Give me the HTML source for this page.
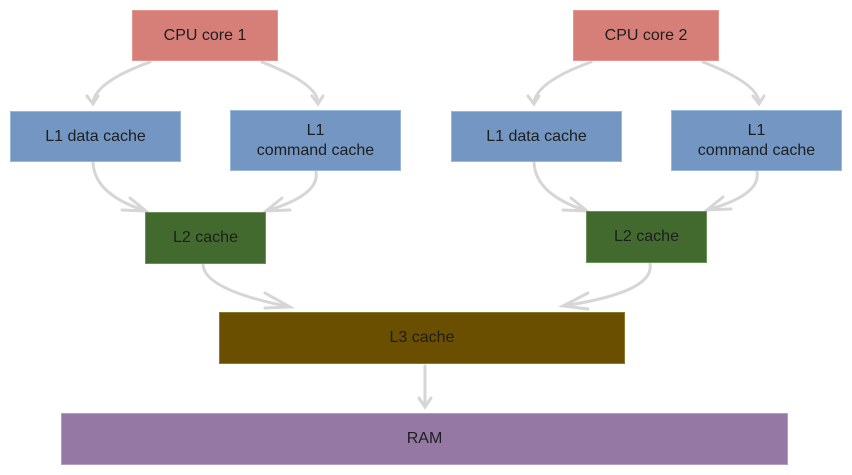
<!DOCTYPE html>
<html><head><style>
body{margin:0;width:852px;height:475px;background:#fff;position:relative;overflow:hidden;font-family:"Comic Sans MS","Liberation Sans",sans-serif;}
.b{position:absolute;display:flex;align-items:center;justify-content:center;text-align:center;font-size:16px;color:#1e1e1e;box-sizing:border-box;line-height:20px;}
.r{background:#d67f79;border:1.5px solid #e5948e}
.u{background:#7396c2;border:1.5px solid #9ab6da}
.g{background:#436a2e;border:1.5px solid #6b915a}
.o{background:#6a4f00;border:1.5px solid #8c7630}
.p{background:#9578a4;border:1.5px solid #b59cc2}
svg{position:absolute;left:0;top:0}
</style></head><body>
<svg width="852" height="475" fill="none" stroke="#d6d6d6" stroke-width="3" stroke-linecap="round">
<g>
<path d="M150 62 Q95 82 93 103 M87 96 L93 104 L98 96"/>
<path d="M262 62 Q318 84 318 103 M312 96 L318 104 L323 96"/>
<path d="M93 163 Q95 195 146 211 M122 210 L146 211 L130 198"/>
<path d="M316 172 Q320 195 266 211 M290 210 L266 211 L282 198"/>
<path d="M203 265 Q205 290 290 307 M265 293 L290 307 L265 308"/>
</g>
<g transform="translate(441,0)">
<path d="M150 62 Q95 82 93 103 M87 96 L93 104 L98 96"/>
<path d="M262 62 Q318 84 318 103 M312 96 L318 104 L323 96"/>
<path d="M93 163 Q95 195 146 211 M122 210 L146 211 L130 198"/>
<path d="M316 172 Q320 195 266 210 M290 209 L266 210 L282 197"/>
</g>
<path d="M650 264 Q655 292 563 306 M588 293 L563 306 L588 309"/>
<path d="M425 366 L425 406 M419 398 L425 407 L431 398"/>
</svg>
<div class="b r" style="left:132px;top:10px;width:146px;height:51px">CPU core 1</div>
<div class="b u" style="left:10px;top:111px;width:171px;height:51px">L1 data cache</div>
<div class="b u" style="left:230px;top:110px;width:171px;height:61px">L1<br>command cache</div>
<div class="b g" style="left:145px;top:212px;width:121px;height:52px">L2 cache</div>
<div class="b r" style="left:573px;top:10px;width:146px;height:51px">CPU core 2</div>
<div class="b u" style="left:451px;top:111px;width:171px;height:51px">L1 data cache</div>
<div class="b u" style="left:671px;top:110px;width:171px;height:61px">L1<br>command cache</div>
<div class="b g" style="left:586px;top:211px;width:121px;height:52px">L2 cache</div>
<div class="b o" style="left:219px;top:312px;width:406px;height:52px">L3 cache</div>
<div class="b p" style="left:61px;top:413px;width:727px;height:52px">RAM</div>
</body></html>
